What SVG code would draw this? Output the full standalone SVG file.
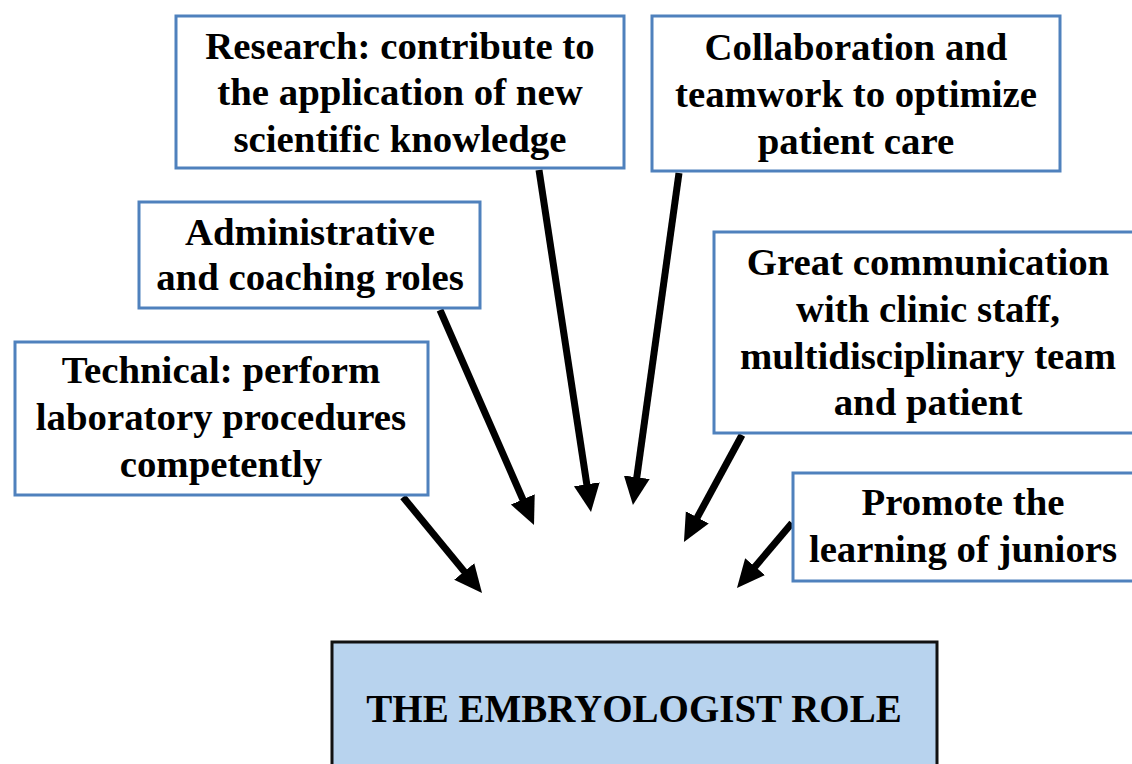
<svg xmlns="http://www.w3.org/2000/svg" width="1132" height="764" viewBox="0 0 1132 764">
  <style>
    .box { fill: #ffffff; stroke: #4f81bd; stroke-width: 3; }
    .core { fill: #b8d3ee; stroke: #111111; stroke-width: 3; }
    .lbl { font-family: "Liberation Serif", "Times New Roman", serif; font-weight: bold; font-size: 38.8px; fill: #000000; text-anchor: middle; }
    .core-lbl { font-size: 39px; }
    .arrow { stroke: #000000; stroke-width: 7; fill: none; marker-end: url(#head); }
  </style>
  <defs>
    <marker id="head" markerUnits="userSpaceOnUse" markerWidth="30" markerHeight="28" refX="8" refY="13" orient="auto">
      <path d="M0,0 L28,13 L0,26 Z" fill="#000000"/>
    </marker>
  </defs>

  <rect width="1132" height="764" fill="#ffffff"/>

  <!-- connectors: each role points toward the central box -->
  <g id="connectors">
    <line class="arrow" x1="403" y1="497" x2="469.3" y2="577.6"/>
    <line class="arrow" x1="440" y1="310" x2="526" y2="506.7"/>
    <line class="arrow" x1="539" y1="170" x2="588" y2="492.2"/>
    <line class="arrow" x1="679" y1="173" x2="635.7" y2="485.2"/>
    <line class="arrow" x1="742" y1="435" x2="693.5" y2="524.4"/>
    <line class="arrow" x1="792" y1="523" x2="749.9" y2="572.7"/>
  </g>

  <g id="research">
    <rect class="box" x="176" y="16" width="448" height="152"/>
    <text class="lbl" x="400" y="59">Research: contribute to</text>
    <text class="lbl" x="400" y="105">the application of new</text>
    <text class="lbl" x="400" y="152">scientific knowledge</text>
  </g>

  <g id="collaboration">
    <rect class="box" x="652" y="16" width="408" height="155"/>
    <text class="lbl" x="856" y="60">Collaboration and</text>
    <text class="lbl" x="856" y="107">teamwork to optimize</text>
    <text class="lbl" x="856" y="154">patient care</text>
  </g>

  <g id="administrative">
    <rect class="box" x="139" y="202" width="341" height="106"/>
    <text class="lbl" x="310" y="245">Administrative</text>
    <text class="lbl" x="310" y="290">and coaching roles</text>
  </g>

  <g id="communication">
    <rect class="box" x="714" y="232" width="430" height="201"/>
    <text class="lbl" x="928" y="275">Great communication</text>
    <text class="lbl" x="928" y="322">with clinic staff,</text>
    <text class="lbl" x="928" y="369">multidisciplinary team</text>
    <text class="lbl" x="928" y="415">and patient</text>
  </g>

  <g id="technical">
    <rect class="box" x="15" y="342" width="413" height="153"/>
    <text class="lbl" x="221" y="383">Technical: perform</text>
    <text class="lbl" x="221" y="430">laboratory procedures</text>
    <text class="lbl" x="221" y="477">competently</text>
  </g>

  <g id="juniors">
    <rect class="box" x="793" y="473" width="350" height="108"/>
    <text class="lbl" x="963" y="515">Promote the</text>
    <text class="lbl" x="963" y="562">learning of juniors</text>
  </g>

  <g id="embryologist-role">
    <rect class="core" x="332" y="642" width="605" height="140"/>
    <text class="lbl core-lbl" x="634" y="722">THE EMBRYOLOGIST ROLE</text>
  </g>
</svg>
